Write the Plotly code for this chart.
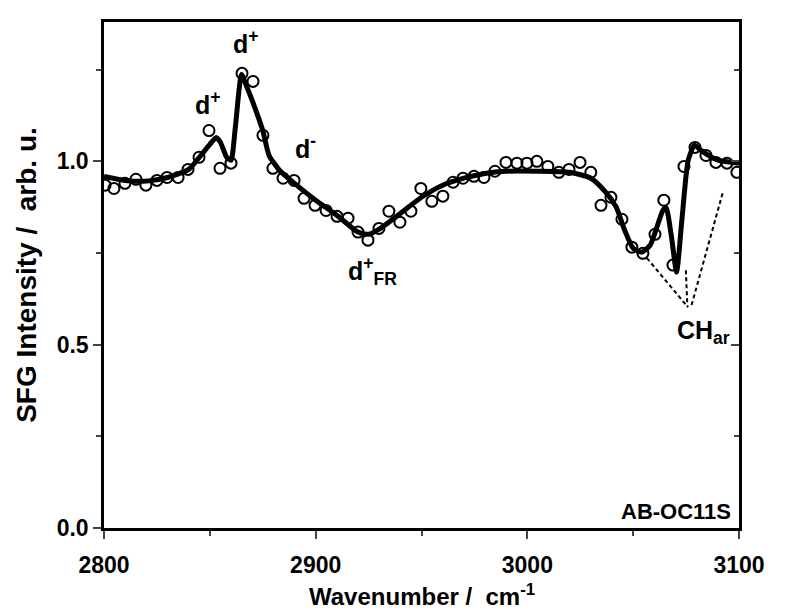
import plotly.graph_objects as go

# measured SFG spectrum (open circles)
wavenumber = [2800.5, 2804.7, 2809.9, 2815.1, 2819.8, 2825.0, 2829.8, 2835.0, 2839.7, 2844.9,
              2849.6, 2854.8, 2860.0, 2865.2, 2870.4, 2875.1, 2879.8, 2884.6, 2889.8, 2894.5,
              2899.7, 2904.9, 2910.1, 2915.3, 2920.0, 2924.7, 2929.9, 2934.6, 2939.8, 2945.0,
              2949.7, 2954.9, 2960.1, 2964.9, 2969.6, 2974.8, 2979.5, 2984.7, 2989.9, 2995.1,
              2999.8, 3004.5, 3009.7, 3014.9, 3019.7, 3024.9, 3030.0, 3034.8, 3039.5, 3044.7,
              3049.4, 3054.6, 3060.3, 3064.5, 3068.8, 3074.0, 3079.2, 3084.4, 3089.1, 3094.3,
              3099.0]
intensity = [0.935, 0.926, 0.940, 0.951, 0.935, 0.948, 0.956, 0.956, 0.978, 1.011,
             1.084, 0.981, 0.995, 1.240, 1.218, 1.071, 0.981, 0.954, 0.948, 0.899,
             0.880, 0.866, 0.850, 0.845, 0.807, 0.785, 0.817, 0.864, 0.834, 0.864,
             0.926, 0.891, 0.905, 0.943, 0.954, 0.959, 0.956, 0.973, 0.997, 0.995,
             0.995, 1.000, 0.986, 0.970, 0.978, 0.997, 0.970, 0.880, 0.902, 0.842,
             0.766, 0.749, 0.801, 0.894, 0.717, 0.986, 1.038, 1.016, 0.997, 0.995,
             0.970]

# fitted curve (thick line)
fit_x = [2800, 2810, 2820, 2830, 2840, 2845, 2850, 2853, 2855, 2858, 2860, 2862,
         2865, 2867, 2870, 2875, 2878, 2883, 2890, 2900, 2910, 2920, 2925, 2930,
         2940, 2950, 2960, 2970, 2980, 2990, 3005, 3020, 3030, 3037, 3042, 3046,
         3050, 3054, 3058, 3061, 3064, 3065.5, 3068, 3070.5, 3073, 3076, 3079,
         3082, 3090, 3100]
fit_y = [0.959, 0.948, 0.946, 0.956, 0.978, 1.011, 1.046, 1.065, 1.052, 1.011,
         1.003, 1.09, 1.237, 1.21, 1.166, 1.084, 1.016, 0.975, 0.940, 0.894,
         0.853, 0.807, 0.801, 0.815, 0.858, 0.902, 0.935, 0.954, 0.967, 0.973,
         0.973, 0.970, 0.954, 0.916, 0.875, 0.812, 0.763, 0.752, 0.771, 0.817,
         0.866, 0.875, 0.798, 0.698, 0.839, 1.003, 1.044, 1.030, 1.003, 0.995]

# dashed guide lines to the CH_ar label
guide_x = [[3056.5, 3075.9], [3074.9, 3075.6], [3077.6, 3092.4]]
guide_y = [[0.736, 0.602], [0.703, 0.605], [0.608, 0.916]]

font = "Arial, 'Liberation Sans', sans-serif"
bold = dict(family=font, color="black", weight="bold")
fig = go.Figure()

for gx, gy in zip(guide_x, guide_y):
    fig.add_trace(go.Scatter(x=gx, y=gy, mode="lines", showlegend=False,
                             line=dict(color="black", width=2, dash="4px,3px")))

fig.add_trace(go.Scatter(x=wavenumber, y=intensity, mode="markers", showlegend=False,
                         marker=dict(symbol="circle-open", size=11, color="black",
                                     line=dict(width=2, color="black"))))
fig.add_trace(go.Scatter(x=fit_x, y=fit_y, mode="lines", showlegend=False,
                         line=dict(color="black", width=5, shape="spline", smoothing=0.6)))

# dummy trace for the mirrored (inward) ticks on the right
fig.add_trace(go.Scatter(x=[2800], y=[0], yaxis="y2", mode="markers",
                         marker=dict(opacity=0), showlegend=False, hoverinfo="skip"))

labels = [
    (2849, 1.158, "d<sup>+</sup>"),
    (2867, 1.325, "d<sup>+</sup>"),
    (2895, 1.04, "d<sup>-</sup>"),
    (2927, 0.70, "d<sup>+</sup><sub>FR</sub>"),
    (3083, 0.535, "CH<sub>ar</sub>"),
]
for lx, ly, txt in labels:
    fig.add_annotation(x=lx, y=ly, text=txt, showarrow=False, font=dict(bold, size=25))
fig.add_annotation(x=3097, y=0.045, text="AB-OC11S", showarrow=False, xanchor="right",
                   font=dict(bold, size=22))
# x axis title, placed by hand so it sits close to the bottom edge like the original
fig.add_annotation(x=0.5, y=-0.132, xref="paper", yref="paper", yanchor="middle",
                   text="Wavenumber /  cm<sup>-1</sup>", showarrow=False, font=dict(bold, size=24))

fig.update_layout(
    width=796, height=614,
    margin=dict(l=96, r=65, t=14, b=94),
    paper_bgcolor="white", plot_bgcolor="white",
    font=dict(family=font, size=20, color="black"),
    xaxis=dict(range=[2800, 3100], dtick=100, ticks="outside", ticklen=8, tickwidth=2,
               ticklabelstandoff=7,
               showline=True, linewidth=2.5, linecolor="black", mirror=True, showgrid=False,
               zeroline=False, tickfont=dict(bold, size=23),
               minor=dict(dtick=50, ticks="outside", ticklen=5, tickwidth=2)),
    yaxis=dict(range=[0, 1.38], dtick=0.5, tickformat=".1f", ticks="outside", ticklen=8, tickwidth=2,
               showline=True, linewidth=2.5, linecolor="black", mirror=True, showgrid=False,
               zeroline=False, tickfont=dict(bold, size=23),
               minor=dict(dtick=0.25, ticks="outside", ticklen=5, tickwidth=2),
               title=dict(text="SFG Intensity /  arb. u.", font=dict(bold, size=28), standoff=12)),
    yaxis2=dict(range=[0, 1.38], dtick=0.5, overlaying="y", side="right", ticks="inside",
                ticklen=8, tickwidth=2, showticklabels=False, showgrid=False, zeroline=False,
                minor=dict(dtick=0.25, ticks="inside", ticklen=5, tickwidth=2)),
)

fig.write_html("out.html")
